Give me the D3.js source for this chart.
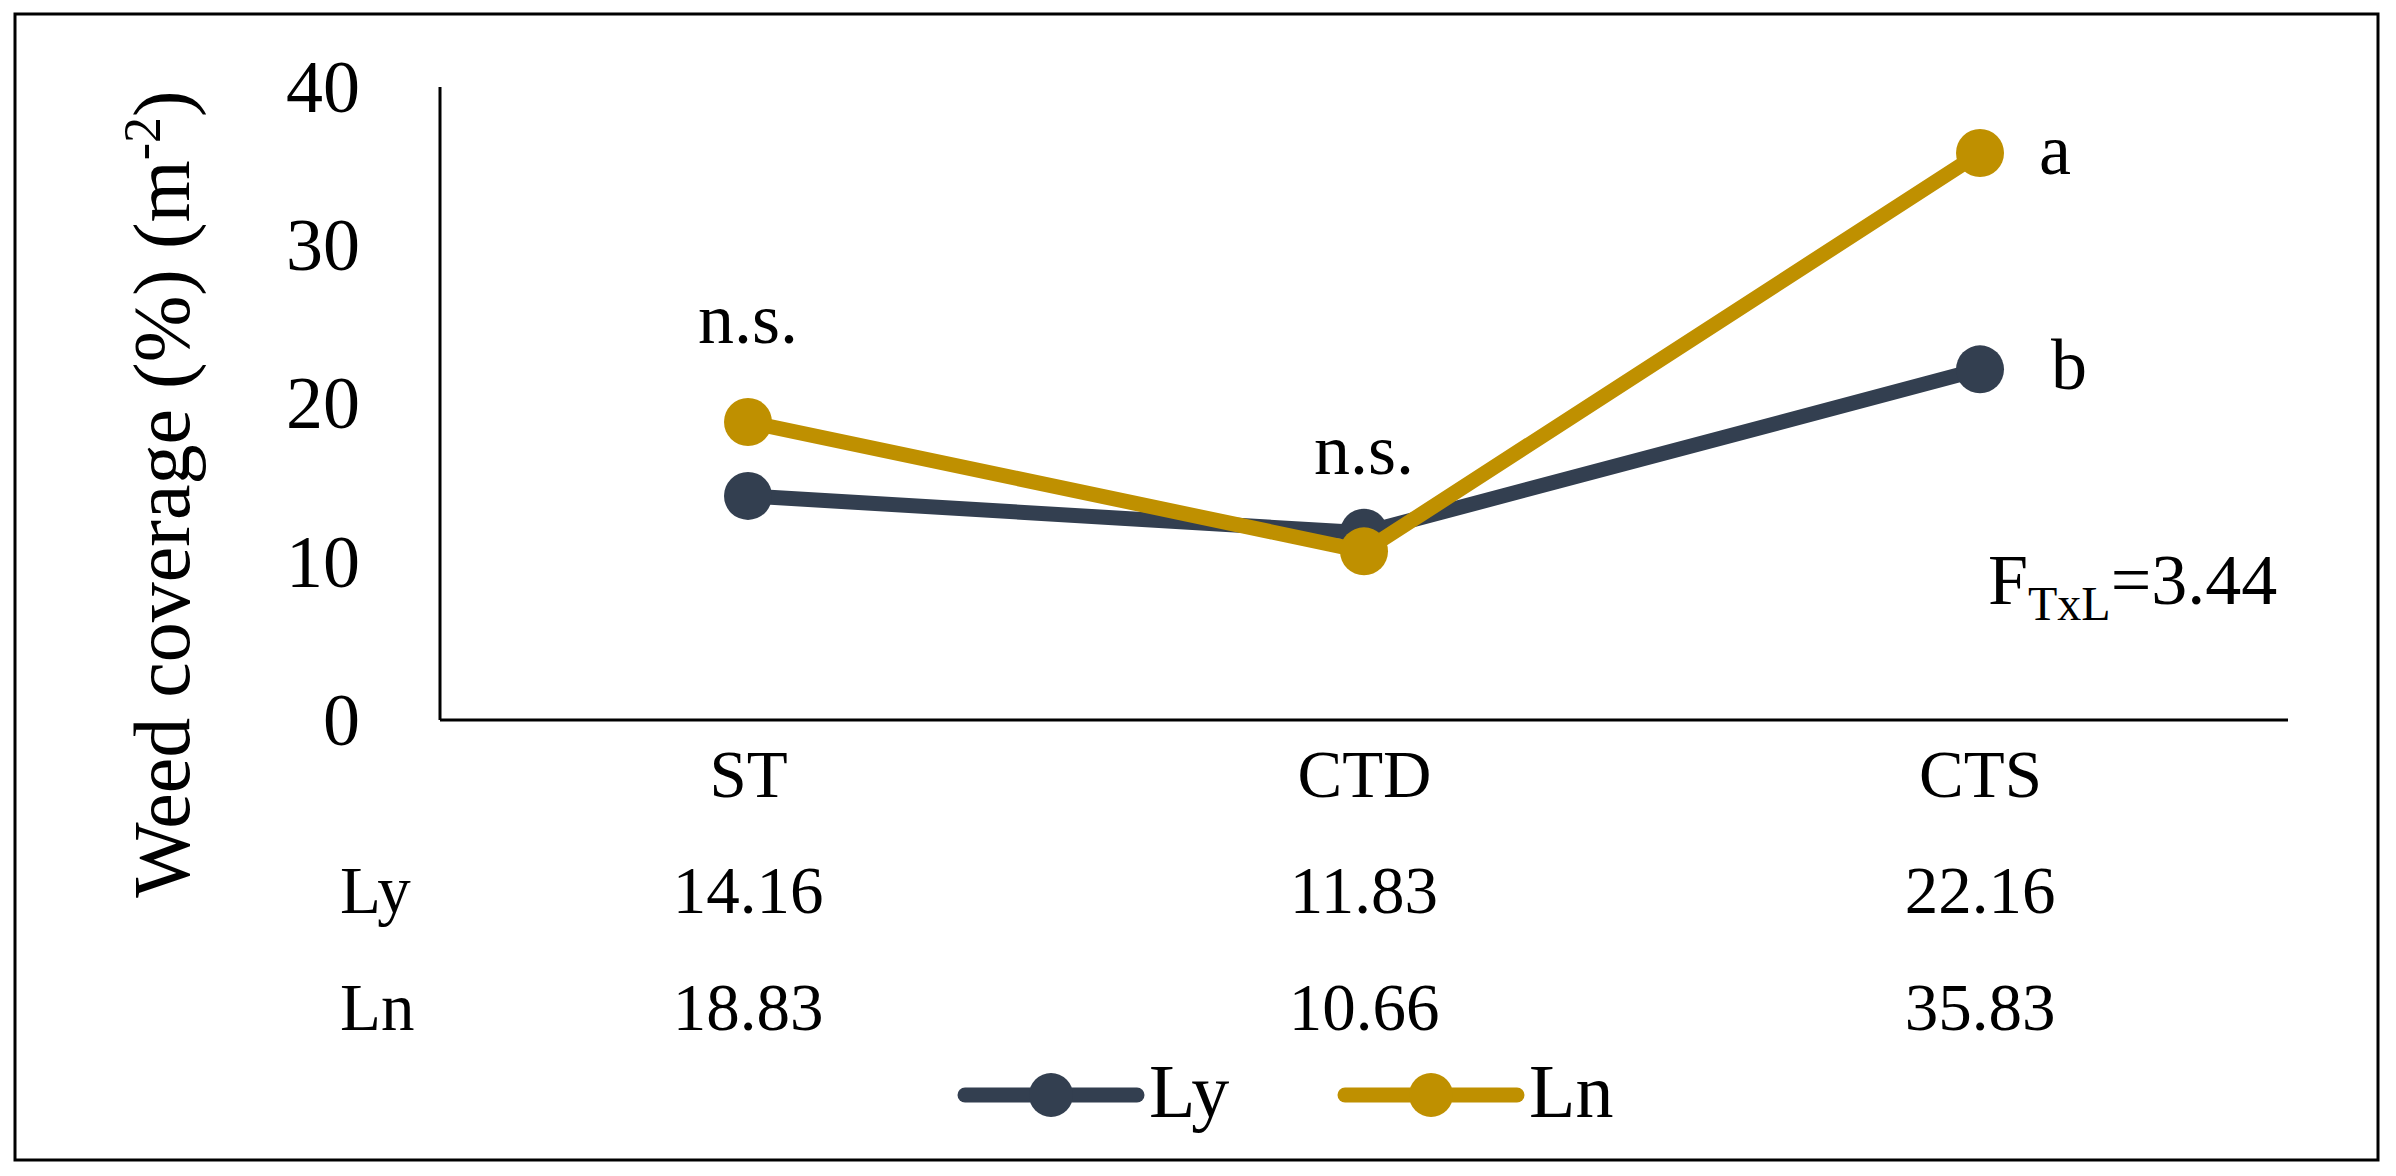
<!DOCTYPE html>
<html>
<head>
<meta charset="utf-8">
<script src="https://cdn.jsdelivr.net/npm/d3@7/dist/d3.min.js"></script>
<style>
  html, body { margin: 0; padding: 0; background: #fff; }
  svg { display: block; }
  text { font-family: "Liberation Serif", "DejaVu Serif", serif; fill: #000; }
</style>
</head>
<body>
<svg id="chart" width="2396" height="1176"></svg>
<script>
// ---- data ----
const categories = ["ST", "CTD", "CTS"];
const lyValues = [14.16, 11.83, 22.16];
const lnValues = [18.83, 10.66, 35.83];
const yTicks = [0, 10, 20, 30, 40];
const seriesNames = ["Ly", "Ln"];
const seriesColors = ["#333F50", "#BF9000"];
const sigLabels = ["n.s.", "n.s.", ""];
const ctsLetters = ["b", "a"]; // Ly, Ln at CTS
const fLabel = { main: "F", sub: "TxL", value: "=3.44" };
const yTitle = "Weed coverage (%) (m";
const yTitleSup = "-2";

// ---- layout ----
const plot = { left: 440, right: 2288, top: 87, bottom: 720 };
const svg = d3.select("#chart");

svg.append("rect")
  .attr("x", 15).attr("y", 14).attr("width", 2363).attr("height", 1146)
  .attr("fill", "#fff").attr("stroke", "#000").attr("stroke-width", 3);

const x = d3.scalePoint().domain(categories).range([plot.left, plot.right]).padding(0.5);
const y = d3.scaleLinear().domain([0, 40]).range([plot.bottom, plot.top]);

// axes lines
svg.append("line").attr("x1", plot.left).attr("x2", plot.left)
  .attr("y1", plot.top).attr("y2", plot.bottom).attr("stroke", "#000").attr("stroke-width", 3);
svg.append("line").attr("x1", plot.left).attr("x2", plot.right)
  .attr("y1", plot.bottom).attr("y2", plot.bottom).attr("stroke", "#000").attr("stroke-width", 3);

// y tick labels
const yAxis = d3.axisLeft(y).tickValues(yTicks).tickSize(0).tickPadding(0).tickFormat(d3.format("d"));
const yg = svg.append("g").attr("transform", `translate(360,0)`).call(yAxis);
yg.select(".domain").remove();
yg.selectAll("text").attr("font-size", 74).attr("font-family", null).attr("dy", "0.33em").attr("fill", "#000");

// x category labels
const xAxis = d3.axisBottom(x).tickSize(0).tickPadding(0);
const xg = svg.append("g").attr("transform", `translate(0,797)`).call(xAxis);
xg.select(".domain").remove();
xg.selectAll("text").attr("font-size", 67).attr("font-family", null).attr("dy", 0).attr("fill", "#000");

// y title
const yt = svg.append("text")
  .attr("transform", "translate(189,494) rotate(-90)")
  .attr("text-anchor", "middle").attr("font-size", 80);
yt.append("tspan").text(yTitle);
yt.append("tspan").attr("font-size", 52).attr("dy", -29).text(yTitleSup);
yt.append("tspan").attr("dy", 29).text(")");

// lines & markers
const series = [lyValues, lnValues];
const line = d3.line().x((d, i) => x(categories[i])).y(d => y(d));
series.forEach((vals, si) => {
  svg.append("path").datum(vals)
    .attr("d", line).attr("fill", "none")
    .attr("stroke", seriesColors[si]).attr("stroke-width", 15)
    .attr("stroke-linejoin", "round");
  svg.selectAll(null).data(vals).enter().append("circle")
    .attr("cx", (d, i) => x(categories[i])).attr("cy", d => y(d))
    .attr("r", 24).attr("fill", seriesColors[si]);
});

// significance labels
svg.append("text").attr("x", x("ST")).attr("y", 343).attr("text-anchor", "middle").attr("font-size", 72).text(sigLabels[0]);
svg.append("text").attr("x", x("CTD")).attr("y", 474).attr("text-anchor", "middle").attr("font-size", 72).text(sigLabels[1]);
svg.append("text").attr("x", x("CTS") + 89).attr("y", y(lyValues[2]) + 20).attr("text-anchor", "middle").attr("font-size", 72).text(ctsLetters[0]);
svg.append("text").attr("x", x("CTS") + 75).attr("y", y(lnValues[2]) + 21).attr("text-anchor", "middle").attr("font-size", 72).text(ctsLetters[1]);

// F label
const ft = svg.append("text").attr("x", 1988).attr("y", 604).attr("font-size", 72);
ft.append("tspan").text(fLabel.main);
ft.append("tspan").attr("font-size", 48).attr("dy", 16).text(fLabel.sub);
ft.append("tspan").attr("dy", -16).text(fLabel.value);

// data table
const rowY = [913, 1030];
series.forEach((vals, si) => {
  svg.append("text").attr("x", 340).attr("y", rowY[si]).attr("font-size", 67).text(seriesNames[si]);
  svg.selectAll(null).data(vals).enter().append("text")
    .attr("x", (d, i) => x(categories[i])).attr("y", rowY[si])
    .attr("text-anchor", "middle").attr("font-size", 67)
    .text(d => d3.format(".2f")(d));
});

// legend
const legendX = [965, 1345];
series.forEach((vals, si) => {
  const g = svg.append("g").attr("transform", `translate(${legendX[si]},1095)`);
  g.append("line").attr("x1", 0).attr("x2", 172).attr("y1", 0).attr("y2", 0)
    .attr("stroke", seriesColors[si]).attr("stroke-width", 15).attr("stroke-linecap", "round");
  g.append("circle").attr("cx", 86).attr("cy", 0).attr("r", 22).attr("fill", seriesColors[si]);
  g.append("text").attr("x", 184).attr("y", 22).attr("font-size", 76).text(seriesNames[si]);
});
</script>
</body>
</html>
